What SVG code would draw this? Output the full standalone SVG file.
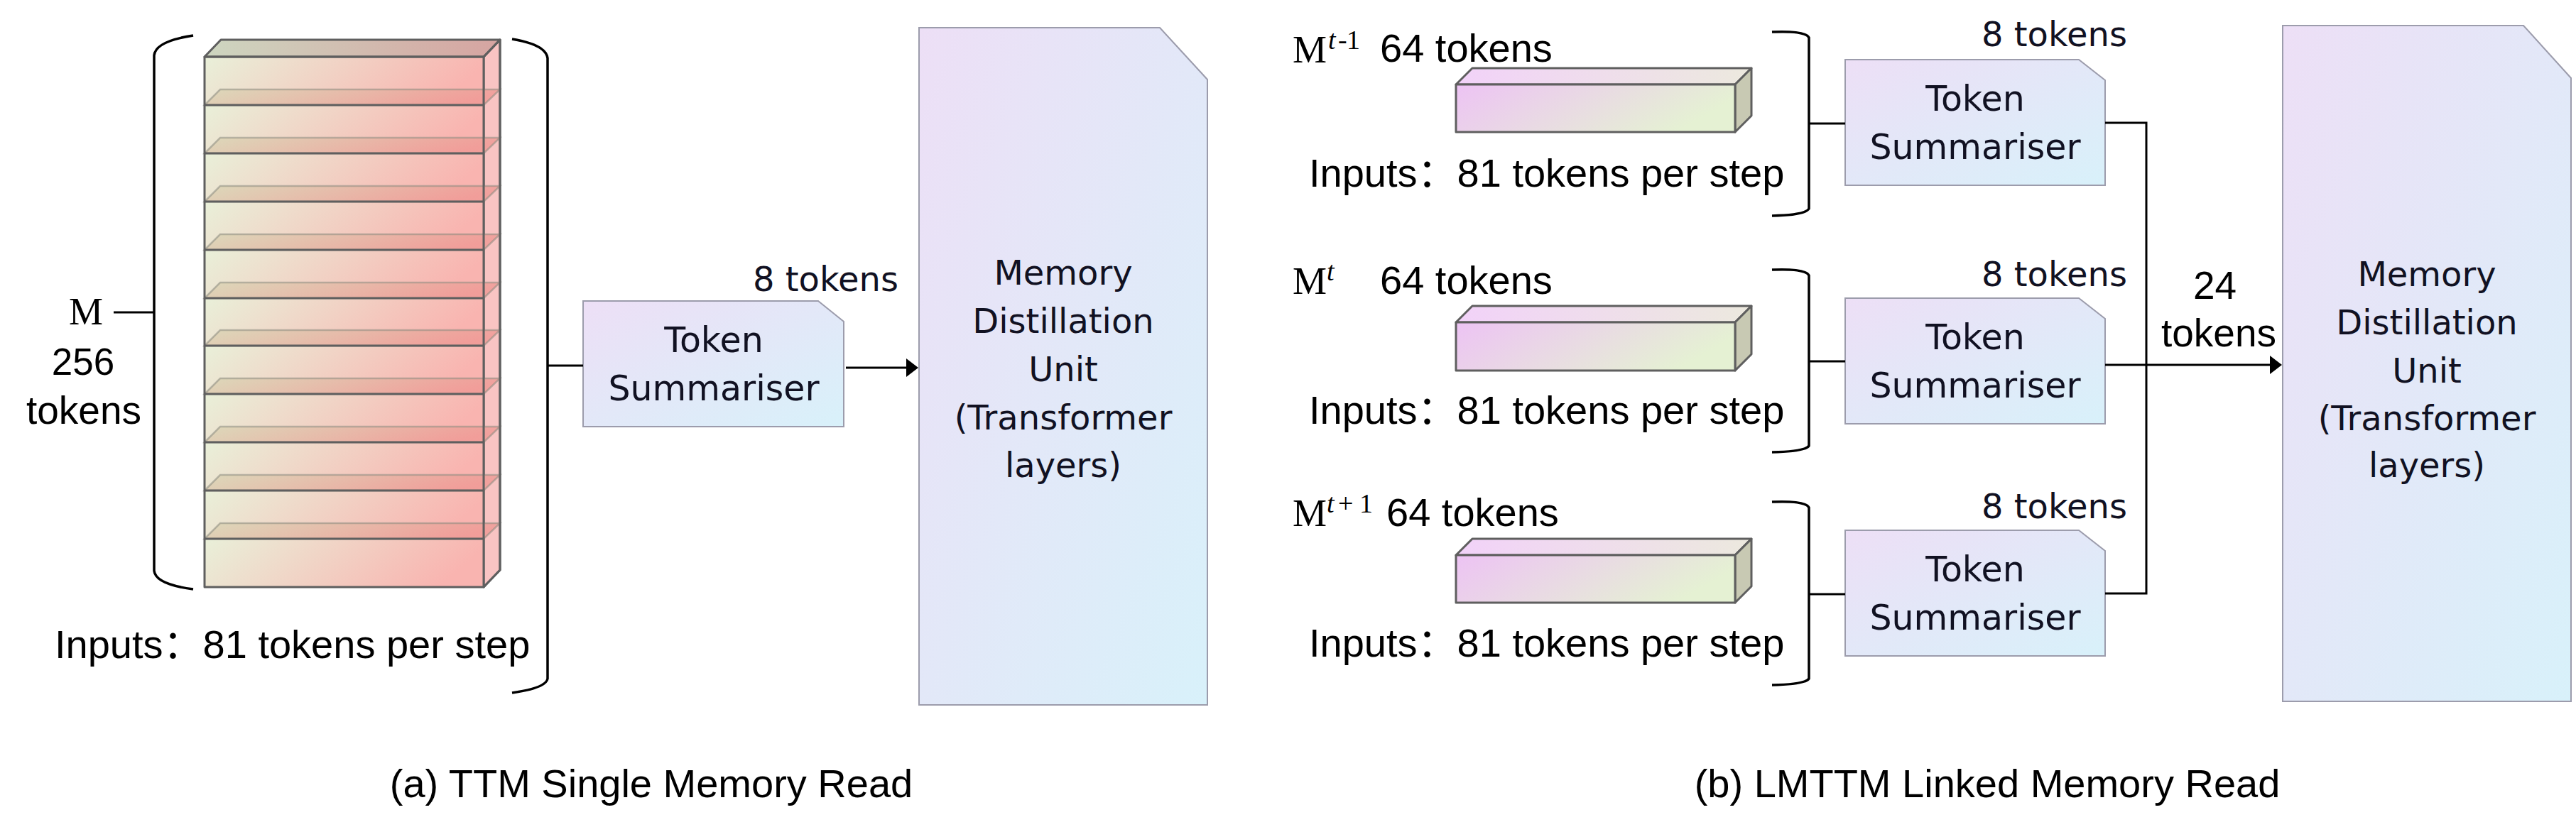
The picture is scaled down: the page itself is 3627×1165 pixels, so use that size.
<svg xmlns="http://www.w3.org/2000/svg" width="3627" height="1165" viewBox="0 0 3627 1165">
<style>
  .sans { font-family: "Liberation Sans", Arial, "Noto Sans CJK SC", sans-serif; fill: #000; }
  .dv { font-family: "DejaVu Sans", Verdana, sans-serif; fill: #111122; }
  .serif { font-family: "Liberation Serif", "Times New Roman", serif; fill: #000; }
  .it { font-style: italic; }
  .conn { fill: none; stroke: #000; stroke-width: 3; }
  .brk { fill: none; stroke: #000; stroke-width: 3.5; }
  .edge { stroke: #5f5f5f; stroke-width: 3; stroke-linejoin: round; }
  .card { stroke: #9c9cac; stroke-width: 2; fill: url(#gCard); }
  .shelf { fill: url(#gShelf); fill-opacity: 0.8; stroke: #8a8a80; stroke-opacity: 0.55; stroke-width: 2.5; }
</style>
<defs>
  <linearGradient id="gCard" x1="0" y1="0" x2="1" y2="1">
    <stop offset="0" stop-color="#eddff6"/>
    <stop offset="1" stop-color="#d8f1fa"/>
  </linearGradient>
  <linearGradient id="gFrontA" x1="0" y1="0" x2="1" y2="0.2">
    <stop offset="0" stop-color="#e9f0d9"/>
    <stop offset="1" stop-color="#f9b4b0"/>
  </linearGradient>
  <linearGradient id="gTopA" x1="0" y1="0" x2="1" y2="0">
    <stop offset="0" stop-color="#cdd6c0"/>
    <stop offset="1" stop-color="#d6a4a1"/>
  </linearGradient>
  <linearGradient id="gShelf" x1="0" y1="0" x2="1" y2="0.2">
    <stop offset="0" stop-color="#d8d5b4"/>
    <stop offset="1" stop-color="#ef9894"/>
  </linearGradient>
  <linearGradient id="gFrontB" x1="0" y1="0" x2="1" y2="0.3">
    <stop offset="0" stop-color="#edc3f4"/>
    <stop offset="1" stop-color="#e5f1d3"/>
  </linearGradient>
  <linearGradient id="gTopB" x1="0" y1="0" x2="1" y2="0">
    <stop offset="0" stop-color="#f2d2f9"/>
    <stop offset="1" stop-color="#ece9de"/>
  </linearGradient>
  <marker id="arr" markerUnits="userSpaceOnUse" markerWidth="18" markerHeight="28" refX="2" refY="13" orient="auto">
    <path d="M0,0 L17,13 L0,26 z" fill="#000"/>
  </marker>
</defs>

<!-- ===== Panel (a) ===== -->
<g id="memory-stack-a">
  <polygon points="681,80 704,56 704,803 681,827" fill="#f9c4c3" class="edge"/>
  <rect x="288" y="80" width="393" height="68" fill="url(#gFrontA)"/>
  <rect x="288" y="148" width="393" height="68" fill="url(#gFrontA)"/>
  <rect x="288" y="216" width="393" height="68" fill="url(#gFrontA)"/>
  <rect x="288" y="284" width="393" height="68" fill="url(#gFrontA)"/>
  <rect x="288" y="352" width="393" height="68" fill="url(#gFrontA)"/>
  <rect x="288" y="420" width="393" height="67" fill="url(#gFrontA)"/>
  <rect x="288" y="487" width="393" height="68" fill="url(#gFrontA)"/>
  <rect x="288" y="555" width="393" height="68" fill="url(#gFrontA)"/>
  <rect x="288" y="623" width="393" height="68" fill="url(#gFrontA)"/>
  <rect x="288" y="691" width="393" height="68" fill="url(#gFrontA)"/>
  <rect x="288" y="759" width="393" height="68" fill="url(#gFrontA)"/>
  <polygon class="shelf" points="288,148 310,126 704,126 681,148"/>
  <polygon class="shelf" points="288,216 310,194 704,194 681,216"/>
  <polygon class="shelf" points="288,284 310,262 704,262 681,284"/>
  <polygon class="shelf" points="288,352 310,330 704,330 681,352"/>
  <polygon class="shelf" points="288,420 310,398 704,398 681,420"/>
  <polygon class="shelf" points="288,487 310,465 704,465 681,487"/>
  <polygon class="shelf" points="288,555 310,533 704,533 681,555"/>
  <polygon class="shelf" points="288,623 310,601 704,601 681,623"/>
  <polygon class="shelf" points="288,691 310,669 704,669 681,691"/>
  <polygon class="shelf" points="288,759 310,737 704,737 681,759"/>
  <polygon points="288,80 311,56 704,56 681,80" fill="url(#gTopA)" class="edge"/>
  <g class="edge" fill="none">
    <rect x="288" y="80" width="393" height="747"/>
    <path d="M288,148 H681 M288,216 H681 M288,284 H681 M288,352 H681 M288,420 H681 M288,487 H681 M288,555 H681 M288,623 H681 M288,691 H681 M288,759 H681"/>
    <path d="M681,80 L704,56 V803 L681,827"/>
  </g>
</g>

<g id="label-m-a">
  <text class="serif" x="97" y="457" font-size="54">M</text>
  <text class="sans" x="117" y="528" font-size="53" text-anchor="middle">256</text>
  <text class="sans" x="118" y="597" font-size="55" text-anchor="middle">tokens</text>
</g>

<g id="bracket-a-left">
  <path class="brk" d="M272,50 Q219,58 217,78 V804 Q219,823 272,830"/>
</g>
<g id="bracket-a-right">
  <path class="brk" d="M721,55 Q769,63 771,82 V956 Q769,969 721,976"/>
</g>
<text class="sans" x="77" y="927" font-size="56">Inputs：81 tokens per step</text>

<g id="ts-a">
  <polygon class="card" points="821,424 1152,424 1188,453 1188,601 821,601"/>
  <text class="dv" x="1005" y="496" font-size="49" text-anchor="middle">Token</text>
  <text class="dv" x="1005" y="564" font-size="49" text-anchor="middle">Summariser</text>
</g>
<text class="dv" x="1060" y="410" font-size="48">8 tokens</text>

<g id="mdu-a">
  <polygon class="card" points="1294,39 1633,39 1700,112 1700,993 1294,993"/>
  <text class="dv" x="1497" y="401" font-size="48" text-anchor="middle">Memory</text>
  <text class="dv" x="1497" y="469" font-size="48" text-anchor="middle">Distillation</text>
  <text class="dv" x="1497" y="537" font-size="48" text-anchor="middle">Unit</text>
  <text class="dv" x="1497" y="605" font-size="48" text-anchor="middle">(Transformer</text>
  <text class="dv" x="1497" y="672" font-size="48" text-anchor="middle">layers)</text>
</g>

<text class="sans" x="917" y="1123" font-size="56" text-anchor="middle">(a) TTM Single Memory Read</text>

<!-- ===== Panel (b) ===== -->
<g id="mem-b1">
  <polygon points="2050,119 2073,96 2466,96 2443,119" fill="url(#gTopB)" class="edge"/>
  <polygon points="2443,119 2466,96 2466,163 2443,186" fill="#c8c9b3" class="edge"/>
  <rect x="2050" y="119" width="393" height="67" fill="url(#gFrontB)" class="edge"/>
</g>
<g id="mem-b2">
  <polygon points="2050,454 2073,431 2466,431 2443,454" fill="url(#gTopB)" class="edge"/>
  <polygon points="2443,454 2466,431 2466,499 2443,522" fill="#c8c9b3" class="edge"/>
  <rect x="2050" y="454" width="393" height="68" fill="url(#gFrontB)" class="edge"/>
</g>
<g id="mem-b3">
  <polygon points="2050,782 2073,759 2466,759 2443,782" fill="url(#gTopB)" class="edge"/>
  <polygon points="2443,782 2466,759 2466,826 2443,849" fill="#c8c9b3" class="edge"/>
  <rect x="2050" y="782" width="393" height="67" fill="url(#gFrontB)" class="edge"/>
</g>

<g id="labels-b">
  <text class="serif" x="1820" y="88" font-size="54">M</text>
  <text class="serif it" x="1870" y="69" font-size="38">t</text>
  <text class="serif" x="1884" y="69" font-size="38">-</text>
  <text class="serif" x="1896" y="69" font-size="38">1</text>
  <text class="sans" x="1943" y="87" font-size="56">64 tokens</text>
  <text class="sans" x="1843" y="263" font-size="56">Inputs：81 tokens per step</text>

  <text class="serif" x="1820" y="414" font-size="54">M</text>
  <text class="serif it" x="1868" y="395" font-size="38">t</text>
  <text class="sans" x="1943" y="414" font-size="56">64 tokens</text>
  <text class="sans" x="1843" y="597" font-size="56">Inputs：81 tokens per step</text>

  <text class="serif" x="1820" y="741" font-size="54">M</text>
  <text class="serif it" x="1868" y="722" font-size="38">t</text>
  <text class="serif" x="1884" y="722" font-size="38">+</text>
  <text class="serif" x="1914" y="722" font-size="38">1</text>
  <text class="sans" x="1952" y="741" font-size="56">64 tokens</text>
  <text class="sans" x="1843" y="925" font-size="56">Inputs：81 tokens per step</text>
</g>

<g id="bracket-b1"><path class="brk" d="M2495,45 Q2542,43 2547,53 V294 Q2542,303 2495,304"/></g>
<g id="bracket-b2"><path class="brk" d="M2495,380 Q2542,378 2547,388 V628 Q2542,636 2495,637"/></g>
<g id="bracket-b3"><path class="brk" d="M2495,707 Q2542,705 2547,715 V956 Q2542,964 2495,965"/></g>

<g id="ts-b1">
  <polygon class="card" points="2598,84 2927,84 2964,113 2964,261 2598,261"/>
  <text class="dv" x="2781" y="156" font-size="49" text-anchor="middle">Token</text>
  <text class="dv" x="2781" y="224" font-size="49" text-anchor="middle">Summariser</text>
</g>
<g id="ts-b2">
  <polygon class="card" points="2598,420 2927,420 2964,449 2964,597 2598,597"/>
  <text class="dv" x="2781" y="492" font-size="49" text-anchor="middle">Token</text>
  <text class="dv" x="2781" y="560" font-size="49" text-anchor="middle">Summariser</text>
</g>
<g id="ts-b3">
  <polygon class="card" points="2598,747 2927,747 2964,776 2964,924 2598,924"/>
  <text class="dv" x="2781" y="819" font-size="49" text-anchor="middle">Token</text>
  <text class="dv" x="2781" y="887" font-size="49" text-anchor="middle">Summariser</text>
</g>
<text class="dv" x="2790" y="65" font-size="48">8 tokens</text>
<text class="dv" x="2790" y="403" font-size="48">8 tokens</text>
<text class="dv" x="2790" y="730" font-size="48">8 tokens</text>

<text class="sans" x="3088" y="421" font-size="55">24</text>
<text class="sans" x="3043" y="488" font-size="55">tokens</text>

<g id="mdu-b">
  <polygon class="card" points="3214,36 3553,36 3620,110 3620,988 3214,988"/>
  <text class="dv" x="3417" y="403" font-size="48" text-anchor="middle">Memory</text>
  <text class="dv" x="3417" y="471" font-size="48" text-anchor="middle">Distillation</text>
  <text class="dv" x="3417" y="539" font-size="48" text-anchor="middle">Unit</text>
  <text class="dv" x="3417" y="606" font-size="48" text-anchor="middle">(Transformer</text>
  <text class="dv" x="3417" y="672" font-size="48" text-anchor="middle">layers)</text>
</g>

<text class="sans" x="2798" y="1123" font-size="56" text-anchor="middle">(b) LMTTM Linked Memory Read</text>

<!-- ===== Connectors ===== -->
<g id="connectors">
  <path class="conn" d="M160,440 H217"/>
  <path class="conn" d="M771,515 H821"/>
  <path class="conn" d="M1191,518 H1278" marker-end="url(#arr)"/>
  <path class="conn" d="M2547,174 H2598"/>
  <path class="conn" d="M2547,509 H2598"/>
  <path class="conn" d="M2547,837 H2598"/>
  <path class="conn" d="M2964,173 H3022 V836 H2964"/>
  <path class="conn" d="M2964,514 H3198" marker-end="url(#arr)"/>
</g>
</svg>
